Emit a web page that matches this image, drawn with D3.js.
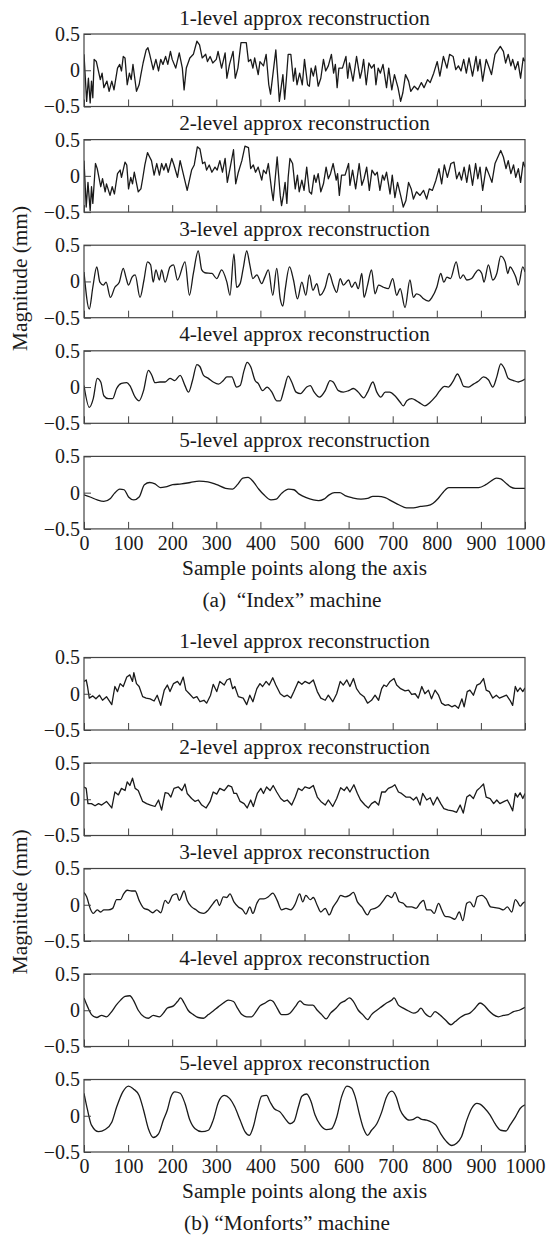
<!DOCTYPE html>
<html>
<head>
<meta charset="utf-8">
<script src="https://cdn.jsdelivr.net/npm/d3@7"></script>
<style>
  html, body { margin: 0; padding: 0; background: #fff; }
  svg { display: block; }
  text { font-family: "Liberation Serif", "Times New Roman", serif; fill: #1a1a1a; }
</style>
</head>
<body>
<svg id="chart" width="549" height="1239"></svg>
<script>
// Subplot titles and tick labels
const levelTitles = ["1-level approx reconstruction", "2-level approx reconstruction",
  "3-level approx reconstruction", "4-level approx reconstruction", "5-level approx reconstruction"];
const xTicks = [0, 100, 200, 300, 400, 500, 600, 700, 800, 900, 1000];
const yTicks = [-0.5, 0, 0.5];
const xLabel = "Sample points along the axis";
const yLabel = "Magnitude (mm)";
const captions = ["(a)  \u201cIndex\u201d machine", "(b) \u201cMonforts\u201d machine"];

// "Index" machine: [sample, magnitude in mm]
const indexL1 = [[0,0.22],[6,-0.43],[10,-0.11],[14,-0.45],[17,-0.15],[20,-0.38],[23,0.15],[28,0.12],[37,-0.13],[41,-0.04],[45,-0.24],[52,-0.15],[57,-0.29],[63,-0.15],[68,-0.27],[76,0.03],[81,0.08],[85,-0.01],[89,0.19],[93,0.17],[98,-0.20],[103,-0.04],[107,-0.13],[111,0.08],[119,-0.29],[125,-0.20],[129,-0.06],[134,0.10],[141,0.28],[145,0.31],[149,0.22],[157,0.01],[163,0.15],[169,-0.01],[174,0.15],[179,0.08],[185,0.19],[190,0.08],[196,0.26],[200,0.15],[208,0.03],[216,0.24],[223,0.03],[227,-0.27],[232,0.03],[240,0.17],[248,0.22],[256,0.40],[262,0.35],[268,0.17],[276,0.22],[280,0.12],[286,0.19],[292,0.10],[300,0.15],[304,0.26],[312,0.03],[320,0.24],[324,-0.11],[330,0.08],[338,0.26],[343,-0.11],[349,0.03],[356,0.38],[368,0.38],[373,0.12],[378,0.15],[383,0.03],[387,0.17],[395,-0.06],[399,0.12],[407,0.06],[413,0.22],[419,-0.20],[423,-0.33],[435,0.28],[441,-0.24],[443,-0.43],[447,-0.24],[451,-0.06],[455,-0.40],[459,-0.11],[463,0.22],[469,0.22],[475,-0.15],[479,0.03],[483,-0.20],[489,-0.04],[495,-0.20],[500,0.15],[507,-0.20],[511,-0.22],[515,0.03],[520,-0.08],[525,0.06],[531,-0.22],[537,-0.11],[543,0.15],[548,-0.01],[554,0.06],[561,0.22],[566,-0.04],[570,0.08],[574,-0.24],[578,0.03],[586,0.03],[594,0.19],[598,-0.11],[602,0.10],[610,-0.15],[618,0.19],[626,-0.11],[630,-0.01],[634,0.15],[640,-0.20],[646,0.10],[652,0.03],[658,0.08],[662,-0.20],[667,0.03],[672,-0.04],[678,0.08],[686,-0.24],[691,0.03],[698,-0.27],[704,-0.06],[712,-0.24],[718,-0.43],[723,-0.31],[729,-0.06],[736,-0.15],[741,-0.29],[749,-0.22],[757,-0.27],[765,-0.17],[771,-0.24],[779,-0.13],[785,-0.17],[793,-0.04],[801,0.12],[807,-0.08],[815,0.19],[823,0.03],[829,0.22],[837,0.19],[843,0.01],[849,0.06],[855,-0.01],[861,0.15],[867,-0.04],[873,0.17],[881,-0.08],[889,0.19],[893,-0.01],[898,0.15],[904,-0.15],[912,0.15],[919,0.03],[924,-0.06],[932,0.22],[944,0.33],[951,0.26],[956,0.10],[962,0.22],[968,0.06],[972,0.15],[978,0.01],[984,0.12],[990,-0.11],[996,0.17],[1000,0.12]];

const indexL2 = [[0,0.21],[5,-0.43],[9,-0.09],[14,-0.48],[17,-0.15],[20,-0.38],[26,0.17],[30,0.10],[38,-0.15],[42,-0.04],[48,-0.22],[51,-0.11],[59,-0.27],[64,-0.15],[69,-0.25],[76,0.03],[82,0.08],[85,-0.02],[93,0.19],[97,0.15],[101,-0.18],[106,-0.02],[110,-0.11],[114,0.05],[123,-0.22],[129,-0.18],[133,-0.04],[138,0.15],[144,0.32],[148,0.27],[153,0.21],[159,0.01],[165,0.17],[171,0.01],[176,0.17],[181,0.08],[186,0.17],[191,0.05],[199,0.24],[204,0.15],[212,-0.02],[218,0.21],[227,-0.02],[234,-0.20],[244,0.08],[250,0.15],[257,0.40],[263,0.37],[269,0.17],[274,0.19],[278,0.08],[284,0.15],[290,0.05],[297,0.12],[302,0.08],[308,0.21],[314,0.05],[320,0.24],[325,-0.09],[331,0.10],[339,0.36],[344,-0.11],[350,0.05],[358,0.21],[365,0.41],[373,0.39],[378,0.10],[384,0.15],[389,0.05],[395,0.12],[403,-0.06],[407,0.08],[413,0.03],[418,0.17],[426,-0.22],[429,-0.34],[438,0.26],[445,-0.27],[448,-0.41],[452,-0.27],[456,-0.09],[460,-0.38],[463,-0.02],[467,0.24],[473,0.17],[479,-0.18],[484,0.01],[488,-0.22],[494,-0.06],[499,-0.20],[505,0.12],[511,-0.22],[516,-0.25],[522,0.01],[526,-0.09],[531,0.03],[537,-0.22],[543,-0.11],[549,0.12],[554,-0.04],[559,0.03],[565,0.17],[572,-0.06],[575,0.03],[579,-0.27],[584,0.01],[592,0.01],[600,0.17],[603,-0.13],[609,0.08],[616,-0.18],[624,0.17],[630,-0.13],[635,-0.04],[641,0.12],[647,-0.20],[653,0.08],[660,0.01],[665,0.05],[671,-0.20],[677,0.01],[681,-0.06],[686,0.05],[694,-0.25],[699,0.01],[705,-0.30],[711,-0.09],[718,-0.27],[724,-0.43],[730,-0.34],[736,-0.09],[742,-0.18],[747,-0.32],[754,-0.22],[762,-0.27],[770,-0.20],[777,-0.32],[783,-0.18],[790,-0.20],[798,-0.06],[805,0.10],[811,-0.11],[817,0.15],[824,-0.02],[832,0.17],[839,0.19],[845,-0.04],[851,0.05],[856,-0.06],[862,0.12],[868,-0.09],[874,0.15],[881,-0.13],[888,0.17],[893,-0.04],[898,0.12],[904,-0.20],[912,0.12],[919,0.01],[925,-0.09],[932,0.17],[945,0.35],[951,0.26],[957,0.10],[962,0.21],[968,0.03],[974,0.15],[979,-0.02],[985,0.10],[990,-0.09],[996,0.19],[1000,0.12]];

const indexL3 = [[0,0.13],[12,-0.38],[20,-0.08],[29,0.20],[36,-0.01],[44,-0.05],[50,-0.01],[60,-0.22],[70,-0.08],[80,-0.01],[89,0.18],[95,0.06],[101,-0.05],[109,0.06],[116,0.09],[127,-0.22],[136,0.02],[144,0.27],[151,0.23],[157,-0.01],[163,0.16],[171,0.02],[176,0.16],[184,-0.01],[195,0.20],[203,0.23],[212,0.02],[229,0.27],[239,-0.19],[248,0.11],[259,0.42],[267,0.16],[274,0.12],[290,0.11],[301,0.04],[312,0.16],[324,-0.01],[331,-0.19],[340,0.38],[346,-0.08],[354,-0.03],[361,0.18],[369,0.42],[376,0.23],[383,0.04],[392,0.09],[403,-0.03],[410,0.06],[418,0.16],[428,-0.19],[437,0.18],[445,-0.24],[451,-0.34],[456,-0.12],[466,0.20],[475,0.02],[484,-0.24],[494,-0.01],[503,-0.19],[511,0.09],[519,-0.12],[528,-0.03],[535,-0.19],[547,-0.08],[556,0.11],[565,-0.05],[573,-0.15],[581,0.04],[588,-0.05],[600,0.02],[607,-0.08],[615,-0.01],[622,-0.10],[630,0.11],[635,-0.22],[643,-0.05],[652,0.16],[660,-0.17],[668,-0.05],[679,-0.08],[690,-0.10],[700,0.04],[709,-0.19],[717,-0.10],[728,-0.36],[739,0.02],[747,-0.22],[754,-0.17],[762,-0.19],[770,-0.24],[781,-0.27],[789,-0.22],[800,-0.08],[809,0.11],[816,-0.01],[823,0.06],[831,0.04],[844,0.27],[853,0.04],[860,0.09],[868,0.02],[879,0.04],[887,0.11],[894,0.16],[902,0.11],[907,-0.01],[917,0.23],[927,0.02],[936,0.11],[945,0.35],[955,0.27],[961,0.11],[966,0.20],[974,0.13],[979,0.06],[985,-0.05],[995,0.20],[1000,0.13]];

const indexL4 = [[0,0.02],[12,-0.28],[21,-0.16],[30,0.12],[38,0.07],[45,-0.12],[55,-0.16],[65,-0.16],[74,-0.02],[85,0.05],[97,0.06],[104,0.02],[116,-0.14],[125,-0.19],[135,-0.05],[146,0.23],[154,0.16],[161,0.06],[172,0.07],[184,0.07],[195,0.12],[206,0.09],[218,0.16],[229,0.02],[237,-0.07],[246,0.09],[256,0.31],[263,0.28],[271,0.16],[282,0.12],[293,0.07],[305,0.04],[316,0.09],[324,0.14],[335,0.14],[346,0.00],[354,0.02],[363,0.23],[370,0.34],[378,0.28],[388,0.09],[395,0.05],[405,-0.05],[415,0.00],[426,-0.07],[437,-0.19],[445,-0.19],[454,-0.02],[463,0.15],[471,0.07],[481,-0.07],[491,-0.09],[505,0.00],[513,0.02],[522,-0.07],[534,-0.14],[547,-0.05],[558,0.09],[565,0.07],[577,-0.05],[588,-0.07],[600,-0.05],[611,-0.02],[622,-0.07],[634,-0.15],[643,-0.07],[655,0.07],[664,-0.07],[673,-0.14],[683,-0.07],[693,-0.07],[705,-0.12],[717,-0.21],[724,-0.26],[732,-0.19],[743,-0.16],[754,-0.19],[764,-0.23],[773,-0.26],[785,-0.21],[796,-0.14],[807,-0.05],[817,0.01],[826,0.00],[836,0.07],[847,0.18],[853,0.12],[861,0.01],[872,0.00],[883,0.04],[894,0.08],[906,0.14],[917,0.10],[927,0.00],[936,0.14],[945,0.32],[953,0.26],[962,0.12],[974,0.09],[985,0.07],[1000,0.11]];

const indexL5 = [[0,-0.03],[14,-0.06],[30,-0.10],[45,-0.12],[60,-0.08],[69,-0.01],[81,0.05],[91,0.04],[101,-0.06],[113,-0.10],[125,-0.06],[137,0.11],[149,0.14],[161,0.12],[173,0.07],[185,0.08],[201,0.11],[221,0.12],[241,0.14],[261,0.16],[281,0.15],[301,0.11],[321,0.06],[337,0.05],[348,0.11],[360,0.20],[372,0.21],[384,0.15],[396,0.05],[408,-0.03],[424,-0.10],[436,-0.09],[448,-0.01],[464,0.05],[476,0.04],[488,-0.02],[504,-0.07],[520,-0.10],[532,-0.11],[544,-0.09],[556,-0.03],[568,0.00],[580,0.00],[592,-0.04],[608,-0.07],[628,-0.09],[643,-0.08],[655,-0.05],[667,-0.05],[683,-0.07],[699,-0.12],[715,-0.17],[731,-0.21],[747,-0.21],[763,-0.19],[779,-0.18],[791,-0.15],[803,-0.08],[815,0.01],[827,0.07],[843,0.07],[859,0.07],[879,0.07],[895,0.07],[911,0.11],[923,0.16],[935,0.20],[945,0.19],[955,0.14],[967,0.08],[978,0.06],[1000,0.06]];

// "Monforts" machine: [sample, magnitude in mm]
const monfortsL1 = [[0,0.17],[5,0.19],[8,0.10],[12,-0.06],[20,-0.03],[27,-0.07],[35,-0.02],[42,-0.09],[51,-0.04],[63,-0.15],[70,0.10],[76,0.03],[82,0.14],[89,0.10],[97,0.23],[104,0.26],[110,0.17],[113,0.29],[119,0.14],[125,0.10],[133,-0.04],[141,-0.06],[150,-0.07],[159,-0.10],[166,-0.02],[174,-0.16],[182,0.05],[189,0.12],[195,0.03],[203,0.14],[212,0.17],[218,0.12],[225,0.23],[231,0.05],[239,0.00],[248,-0.06],[256,-0.04],[263,-0.11],[272,-0.09],[278,-0.13],[287,-0.02],[293,0.13],[301,0.03],[308,0.17],[318,0.12],[324,0.19],[331,0.21],[337,0.07],[342,0.10],[350,-0.04],[361,-0.06],[369,-0.15],[376,-0.02],[383,-0.11],[392,0.07],[399,0.14],[405,0.10],[413,0.17],[420,0.12],[428,0.22],[435,0.12],[445,0.00],[454,-0.04],[461,-0.02],[469,-0.06],[476,0.03],[486,0.17],[494,0.13],[501,0.17],[511,0.14],[520,0.19],[529,0.03],[537,-0.06],[547,-0.09],[554,-0.02],[564,-0.11],[573,0.00],[581,0.17],[588,0.12],[596,0.19],[603,0.10],[611,0.21],[618,0.07],[626,0.00],[635,-0.04],[643,-0.13],[652,-0.09],[660,-0.02],[668,-0.09],[675,0.07],[680,0.12],[686,0.10],[694,0.17],[703,0.21],[709,0.12],[718,0.07],[728,0.04],[736,0.05],[743,-0.01],[751,0.00],[758,-0.06],[766,0.10],[773,0.00],[781,0.05],[788,-0.07],[796,0.05],[804,-0.02],[811,-0.13],[819,-0.16],[826,-0.15],[834,-0.18],[841,-0.16],[849,-0.20],[857,-0.07],[862,-0.18],[869,0.03],[875,0.05],[883,-0.02],[891,0.12],[898,0.14],[906,0.21],[912,0.05],[919,0.03],[927,-0.06],[935,-0.02],[942,-0.06],[950,-0.04],[958,-0.02],[966,-0.09],[972,-0.16],[978,0.10],[983,0.03],[989,0.08],[995,0.03],[1000,0.08]];

const monfortsL2 = [[0,0.17],[5,0.15],[9,-0.06],[17,-0.06],[25,-0.09],[33,-0.06],[40,-0.08],[51,-0.03],[63,-0.12],[70,0.10],[78,0.06],[85,0.15],[93,0.12],[98,0.24],[104,0.19],[110,0.29],[116,0.15],[123,0.12],[133,-0.03],[142,-0.06],[151,-0.08],[161,-0.10],[169,-0.01],[176,-0.15],[184,0.09],[191,0.08],[197,0.03],[204,0.15],[214,0.17],[222,0.12],[229,0.21],[234,0.08],[244,0.01],[252,-0.03],[259,-0.01],[267,-0.08],[277,-0.12],[286,-0.03],[293,0.10],[301,0.07],[308,0.15],[318,0.12],[327,0.19],[335,0.17],[340,0.08],[346,0.08],[354,-0.03],[363,-0.06],[370,-0.12],[378,-0.01],[384,-0.10],[393,0.08],[401,0.15],[407,0.08],[414,0.17],[422,0.12],[429,0.19],[437,0.10],[446,0.01],[454,-0.03],[461,-0.01],[471,-0.08],[479,0.03],[486,0.15],[494,0.12],[501,0.17],[511,0.15],[520,0.19],[529,0.03],[537,-0.03],[547,-0.08],[554,-0.01],[564,-0.10],[573,0.01],[582,0.16],[590,0.12],[596,0.17],[603,0.10],[612,0.20],[620,0.08],[627,-0.01],[637,-0.08],[645,-0.12],[652,-0.06],[660,-0.03],[668,-0.08],[675,0.10],[683,0.10],[690,0.15],[698,0.17],[705,0.20],[713,0.10],[720,0.08],[730,0.03],[739,0.03],[747,-0.01],[754,0.03],[762,-0.08],[768,0.08],[777,-0.01],[785,0.02],[792,-0.08],[801,0.03],[809,-0.06],[816,-0.13],[826,-0.15],[836,-0.16],[845,-0.18],[853,-0.08],[860,-0.19],[868,0.03],[875,0.06],[883,0.01],[891,0.12],[898,0.16],[906,0.21],[912,0.03],[921,0.01],[929,-0.06],[936,-0.01],[943,-0.06],[953,-0.03],[960,-0.01],[966,-0.08],[972,-0.16],[978,0.08],[983,0.03],[989,0.09],[995,0.01],[1000,0.08]];

const monfortsL3 = [[0,0.17],[6,0.11],[14,-0.05],[21,-0.12],[30,-0.07],[38,-0.10],[45,-0.07],[55,-0.07],[65,-0.05],[74,0.07],[83,0.07],[89,0.14],[98,0.20],[108,0.19],[116,0.19],[125,0.06],[136,-0.05],[146,-0.07],[156,-0.11],[165,-0.07],[174,-0.11],[184,0.06],[191,0.02],[201,0.13],[210,0.15],[216,0.06],[227,0.19],[234,0.06],[244,-0.03],[254,-0.07],[263,-0.11],[272,-0.12],[282,-0.07],[293,0.02],[301,0.07],[307,-0.01],[316,0.11],[324,0.10],[331,0.15],[340,0.04],[350,-0.03],[360,-0.07],[367,-0.13],[376,-0.03],[383,-0.12],[392,0.02],[399,0.08],[408,0.08],[418,0.11],[428,0.16],[438,0.06],[448,-0.07],[458,-0.05],[469,-0.07],[479,0.01],[489,0.15],[496,0.04],[503,0.13],[513,0.07],[520,0.10],[529,-0.01],[537,-0.10],[547,-0.05],[556,-0.14],[565,-0.03],[575,0.06],[582,0.13],[592,0.11],[602,0.13],[611,0.17],[620,0.04],[630,-0.03],[643,-0.14],[650,-0.07],[660,-0.05],[670,-0.01],[679,0.06],[688,0.13],[698,0.10],[705,0.17],[715,0.04],[724,0.02],[733,-0.03],[743,-0.03],[753,-0.05],[762,0.02],[770,0.06],[777,-0.07],[786,-0.07],[794,-0.12],[804,0.02],[811,-0.07],[819,-0.16],[830,-0.17],[841,-0.20],[851,-0.10],[859,-0.22],[868,0.02],[875,0.04],[884,-0.03],[892,0.11],[902,0.13],[912,0.08],[922,-0.03],[932,-0.04],[942,-0.05],[951,-0.07],[960,-0.03],[970,-0.10],[978,0.07],[983,0.04],[989,-0.02],[995,0.02],[1000,0.04]];

const monfortsL4 = [[0,0.17],[8,0.05],[17,-0.06],[29,-0.10],[40,-0.07],[51,-0.09],[60,-0.04],[73,0.07],[83,0.14],[93,0.19],[104,0.20],[112,0.14],[123,0.00],[136,-0.09],[146,-0.11],[157,-0.07],[171,-0.09],[180,-0.04],[189,0.03],[203,0.06],[212,0.12],[219,0.17],[227,0.10],[236,0.00],[248,-0.06],[259,-0.10],[271,-0.11],[282,-0.06],[293,-0.01],[305,0.05],[316,0.10],[327,0.14],[339,0.12],[348,0.03],[358,-0.06],[369,-0.09],[380,-0.09],[390,-0.02],[399,0.06],[411,0.10],[422,0.14],[429,0.12],[438,0.03],[448,-0.06],[458,-0.06],[467,-0.04],[479,0.05],[490,0.13],[499,0.08],[509,0.07],[519,0.07],[529,0.00],[539,-0.06],[549,-0.12],[559,-0.04],[572,0.03],[582,0.10],[592,0.13],[602,0.17],[611,0.12],[622,0.00],[632,-0.06],[643,-0.13],[652,-0.06],[664,0.00],[675,0.05],[686,0.10],[698,0.14],[703,0.17],[713,0.07],[724,0.03],[736,-0.01],[747,-0.04],[756,-0.02],[764,0.03],[773,-0.04],[785,-0.09],[796,-0.02],[806,-0.06],[819,-0.13],[832,-0.20],[841,-0.16],[853,-0.10],[864,-0.06],[875,-0.04],[887,0.03],[898,0.10],[907,0.07],[917,0.00],[928,-0.06],[940,-0.09],[951,-0.07],[962,-0.06],[974,-0.02],[987,0.00],[1000,0.04]];

const monfortsL5 = [[0,0.31],[8,0.08],[17,-0.13],[33,-0.22],[48,-0.19],[63,-0.09],[74,0.12],[88,0.33],[101,0.41],[112,0.37],[125,0.28],[135,0.08],[146,-0.18],[157,-0.30],[169,-0.25],[180,-0.06],[189,0.08],[197,0.26],[206,0.33],[218,0.31],[229,0.17],[240,-0.06],[252,-0.18],[267,-0.22],[282,-0.20],[293,-0.06],[305,0.19],[318,0.28],[330,0.24],[342,0.12],[354,-0.06],[365,-0.22],[375,-0.27],[384,-0.15],[393,0.08],[403,0.27],[414,0.28],[422,0.19],[431,0.10],[445,0.05],[456,-0.04],[467,-0.11],[476,-0.08],[486,0.12],[494,0.27],[505,0.30],[514,0.21],[524,0.01],[535,-0.12],[549,-0.19],[561,-0.18],[573,-0.02],[584,0.26],[596,0.41],[607,0.38],[615,0.26],[625,0.01],[634,-0.18],[643,-0.27],[652,-0.20],[664,-0.11],[675,0.05],[686,0.26],[698,0.34],[708,0.26],[717,0.08],[726,-0.01],[738,-0.06],[747,-0.05],[756,-0.02],[766,-0.05],[777,-0.06],[789,-0.09],[798,-0.13],[809,-0.25],[821,-0.35],[834,-0.41],[845,-0.38],[856,-0.29],[868,-0.06],[879,0.10],[891,0.17],[898,0.16],[909,0.10],[921,0.01],[932,-0.11],[945,-0.20],[957,-0.21],[966,-0.13],[978,-0.02],[989,0.10],[1000,0.15]];

const indexSeries = [indexL1, indexL2, indexL3, indexL4, indexL5];
const monfortsSeries = [monfortsL1, monfortsL2, monfortsL3, monfortsL4, monfortsL5];

// Layout
const svg = d3.select("#chart");
const left = 84, right = 525, plotH = 72.5;
const x = d3.scaleLinear().domain([0, 1000]).range([left, right]);
const panels = [
  { series: indexSeries, firstTop: 34, step: 105.6, caption: captions[0], captionX: 292 },
  { series: monfortsSeries, firstTop: 657.5, step: 105.5, caption: captions[1], captionX: 287 }
];
const curves = [d3.curveLinear, d3.curveLinear, d3.curveMonotoneX, d3.curveMonotoneX, d3.curveMonotoneX];
const labelSize = 21.3, tickSize = 20;

panels.forEach((panel, p) => {
  let lastBottom = 0;
  panel.series.forEach((data, i) => {
    const top = panel.firstTop + i * panel.step;
    const bottom = top + plotH;
    lastBottom = bottom;
    const y = d3.scaleLinear().domain([-0.5, 0.5]).range([bottom, top]);
    const g = svg.append("g");

    const clipId = `clip-${p}-${i}`;
    g.append("clipPath").attr("id", clipId)
      .append("rect").attr("x", left).attr("y", top)
      .attr("width", right - left).attr("height", plotH);

    // title
    g.append("text")
      .attr("x", (left + right) / 2).attr("y", top - 9.5)
      .attr("text-anchor", "middle").attr("font-size", labelSize)
      .text(levelTitles[i]);

    // signal
    const line = d3.line().x(d => x(d[0])).y(d => y(d[1])).curve(curves[i]);
    g.append("path").datum(data)
      .attr("clip-path", `url(#${clipId})`)
      .attr("fill", "none").attr("stroke", "#1a1a1a")
      .attr("stroke-width", 1.3).attr("stroke-linejoin", "round")
      .attr("d", line);

    // axes
    const isLast = i === panel.series.length - 1;
    const xAxis = d3.axisBottom(x).tickValues(xTicks).tickSize(-7).tickPadding(7)
      .tickFormat(isLast ? d3.format("d") : () => "");
    const gx = g.append("g").attr("transform", `translate(0,${bottom})`).call(xAxis);
    const yAxis = d3.axisLeft(y).tickValues(yTicks).tickSize(-7).tickPadding(4)
      .tickFormat(d => d === 0 ? "0" : d3.format(".1f")(d));
    const gy = g.append("g").attr("transform", `translate(${left},0)`).call(yAxis);
    [gx, gy].forEach(ax => {
      ax.select(".domain").remove();
      ax.selectAll(".tick line").attr("stroke", "#444").attr("stroke-width", 1);
      ax.selectAll(".tick text").attr("font-size", tickSize)
        .attr("font-family", "'Liberation Serif', 'Times New Roman', serif").attr("fill", "#1a1a1a");
    });

    // frame
    g.append("rect")
      .attr("x", left).attr("y", top).attr("width", right - left).attr("height", plotH)
      .attr("fill", "none").attr("stroke", "#444").attr("stroke-width", 1.2);
  });

  // x axis title and caption
  svg.append("text")
    .attr("x", (left + right) / 2).attr("y", lastBottom + 46)
    .attr("text-anchor", "middle").attr("font-size", labelSize)
    .text(xLabel);
  svg.append("text")
    .attr("x", panel.captionX).attr("y", lastBottom + 78)
    .attr("text-anchor", "middle").attr("font-size", labelSize)
    .style("white-space", "pre")
    .text(panel.caption);

  // y axis title
  const midY = (panel.firstTop + lastBottom) / 2 - 3;
  svg.append("text")
    .attr("transform", `translate(20,${midY}) rotate(-90)`)
    .attr("text-anchor", "middle").attr("dominant-baseline", "central")
    .attr("font-size", labelSize)
    .text(yLabel);
});
</script>
</body>
</html>
